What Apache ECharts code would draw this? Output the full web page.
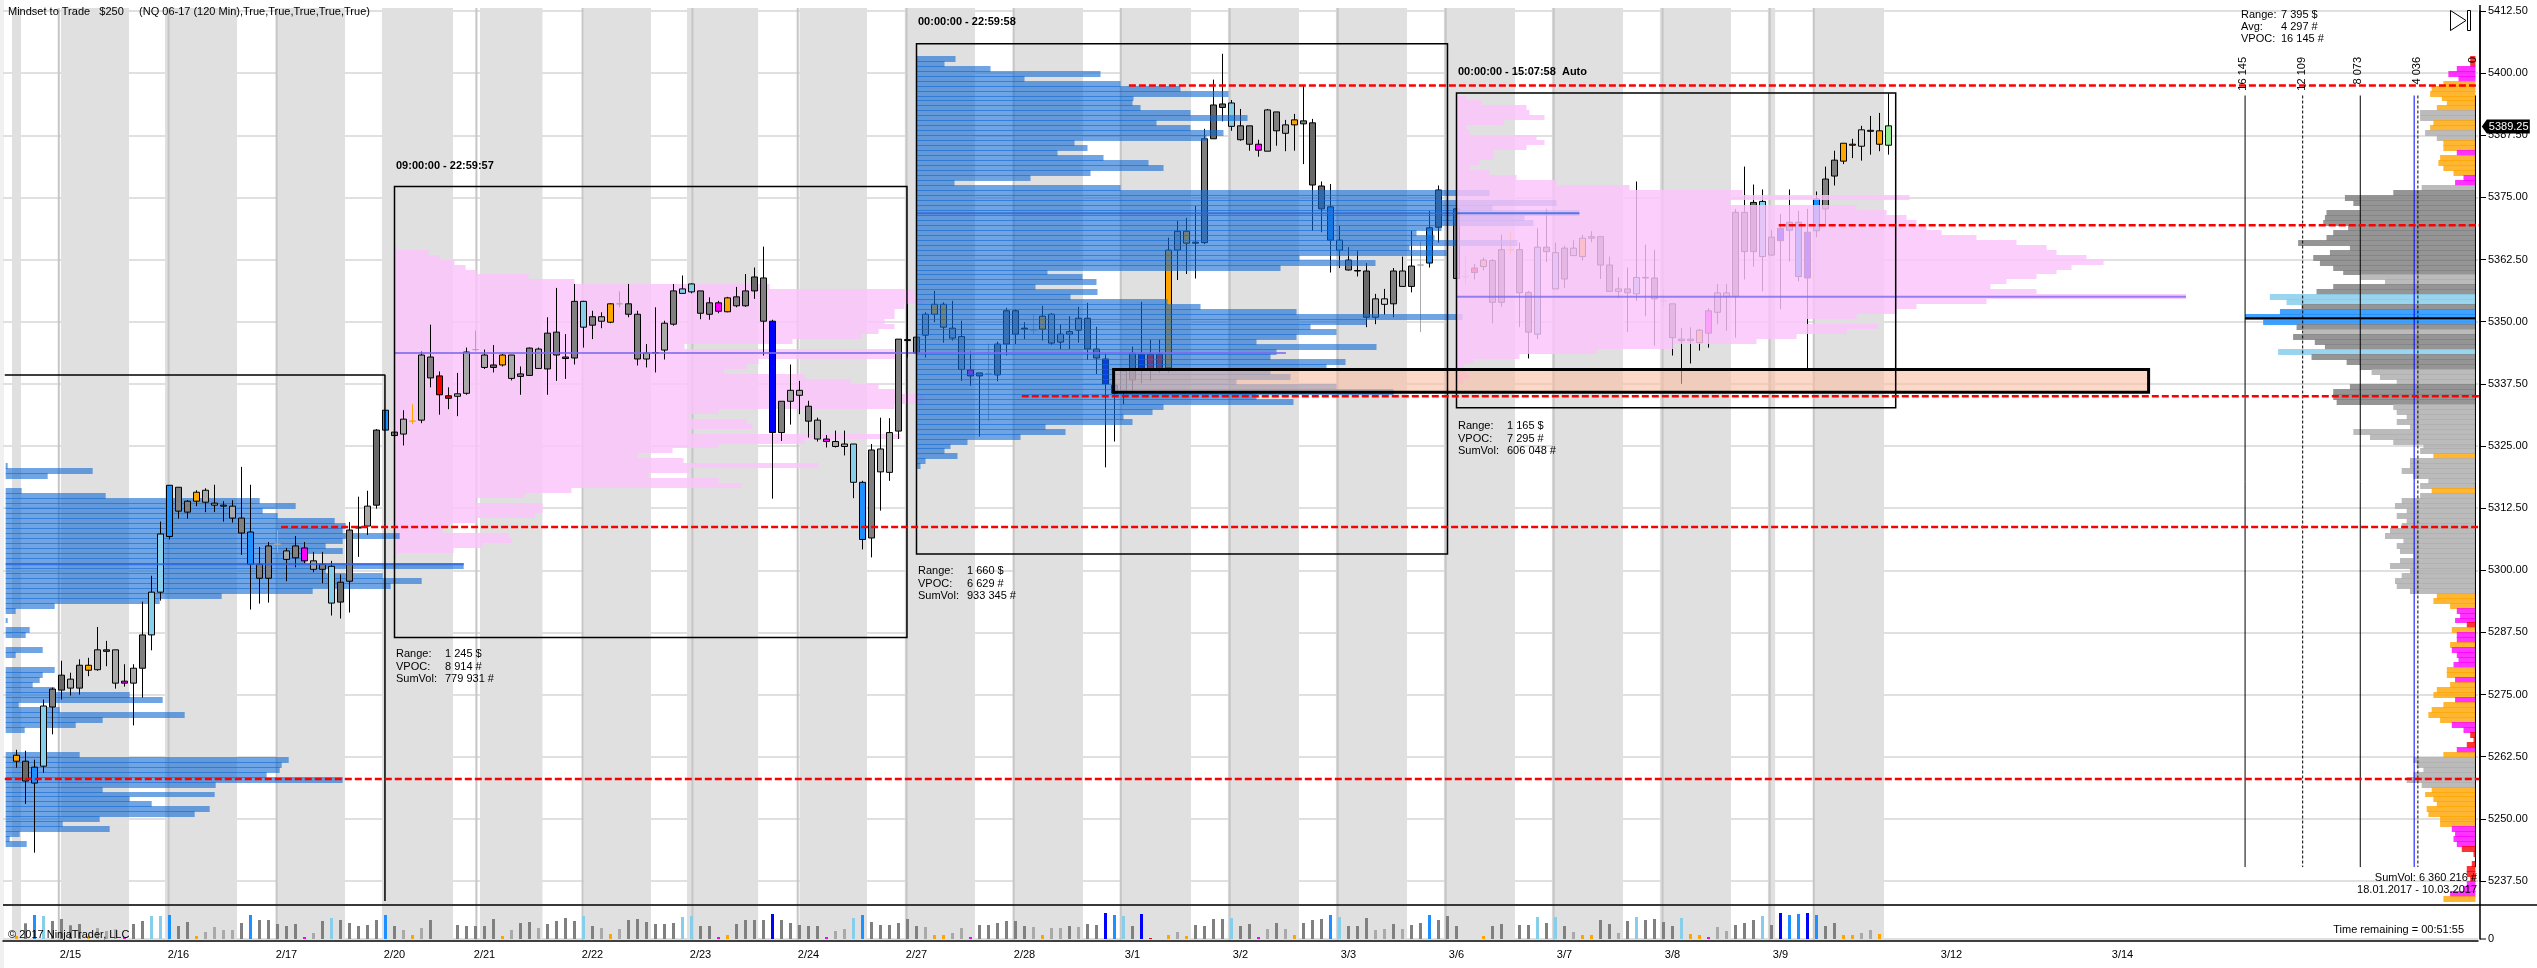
<!DOCTYPE html>
<html><head><meta charset="utf-8"><style>html,body{margin:0;padding:0;background:#fff}#c{width:2537px;height:968px}</style>
<script src="https://cdn.jsdelivr.net/npm/echarts@6/dist/echarts.min.js"></script></head><body><div id="c"></div>
<script>
// ---- time slots ----
const slotCount = 275;
const tickSlots = [7,19,31,43,53,65,77,89,101,113,125,137,149,161,173,185,197,202,216,235];
const tickDates = ['2/15','2/16','2/17','2/20','2/21','2/22','2/23','2/24','2/27','2/28','3/1','3/2','3/3','3/6','3/7','3/8','3/9',' ','3/12','3/14'];
// ---- candles (index = slot) ----
const highs = [null,
5263.9,5263.7,5261.9,5274,5276.4,5281.8,5279.4,5282.1,5282.4,
5288.6,5285.8,5284,5281.1,5281.1,5293.7,5298.9,5309.8,5317.1,5316.7,
5314.1,5316.1,5316.5,5317.2,5313.9,5314.1,5320.8,5317.2,5304.7,5305.7,
5308.1,5304.5,5306.9,5305.7,5303.7,5303.7,5301.9,5299.2,5309.7,5314.8,
5316,5328.4,5332.2,5328.4,5332.2,5333.4,5344,5349.4,5340,5336.8,
5339.7,5344.8,5348.2,5344.4,5345.3,5343.5,5343.3,5341,5344.8,5344.8,
5350.9,5356.8,5347.5,5357.6,5354.2,5352.2,5351.9,5353.7,5356.1,5357.6,
5352.2,5345.5,5352.9,5350.2,5357.6,5359.3,5357.7,5356.2,5354.9,5354.2,
5355,5357,5359.6,5360.9,5365.1,5350.4,5334,5341.4,5338.1,5334.1,
5330.7,5327.2,5328.1,5328.1,5325.4,5318,5325.4,5330.7,5330.6,5346.5,
5353.6,5347.2,5351.9,5356.2,5353.9,5354.2,5350.2,5344,5339.7,5345.6,
5346,5352.8,5352.5,5349.9,5351.5,5353.2,5351.7,5349.5,5351.1,5353,
5353.8,5349,5343.5,5337.5,5340.1,5345,5354,5346.4,5346.4,5366.9,
5370.3,5370.9,5373.3,5388.8,5398.7,5403.9,5394.6,5392.8,5389.4,5386.6,
5392.8,5392.2,5390.6,5391.8,5397.6,5390.8,5378.2,5377.7,5369.3,5365,
5364.3,5361.8,5355.6,5356.6,5360.8,5363.1,5368.3,5366.2,5372.3,5377.4,
null,5373,5363.3,5361.6,5362.9,5362.6,5367.5,5368.1,5365.9,5356.2,
5368.8,5372.7,5365.9,5365.3,5366.4,5367.5,5368.2,5367.1,5363.1,5358.9,
5360.9,5378.2,5365.5,5364.5,5356.6,5353.6,5348.7,5348.9,5348.5,5352.7,
5357.6,5357.6,5372.7,5381.2,5377.6,5376.6,5368.4,5371.7,5376.6,5372.3,
5372.7,5376.2,5381.2,5384.4,5385.9,5386.8,5389.4,5391.4,5392,5395.9];
const bodyTops = [null,
5262.8,5261.6,5260.4,5272.7,5276.1,5278.9,5278.1,5280.9,5280.9,
5284,5284,5284,5277.7,5280.3,5287,5295.6,5307.3,5317.1,5316.7,
5313.9,5315.7,5316.1,5313.5,5313.1,5312.9,5310.5,5307.7,5301.2,5304.9,
5305.3,5303.9,5304.9,5304.5,5301.9,5301.2,5300.8,5297.6,5308.1,5308.7,
5312.9,5328.2,5332.2,5327.8,5330.4,5330,5343.3,5342.9,5339.1,5335.1,
5335.5,5343.9,5344.4,5343.3,5341.3,5343.3,5343.3,5339.5,5344.7,5344.5,
5347.7,5347.9,5342.9,5354.1,5354.1,5351,5351,5353.6,5353.6,5353.6,
5351.5,5343.7,5343.8,5349.7,5356.2,5356.6,5357.6,5356.2,5353.8,5353.8,
5354.8,5355,5356.2,5359,5358.8,5350.1,5334,5336.2,5336.2,5333,
5330.2,5326.4,5325.9,5325.4,5325.4,5317.7,5324.2,5324.4,5327.7,5346.5,
5346.4,5346.9,5351.5,5353.5,5353.5,5348.7,5347,5340.3,5339.7,5339.5,
5345.5,5352.2,5352.2,5348.7,5348.3,5351.1,5351.5,5347.5,5348,5350.7,
5350.7,5344.5,5342.5,5337.2,5340.1,5343.7,5343.5,5343.5,5343.5,5364.4,
5368.2,5368.2,5366,5386.8,5393.6,5393.8,5394,5389.4,5389.4,5385.7,
5392.6,5392.2,5389.6,5390.6,5390.4,5390,5377.3,5373.1,5366.4,5362.4,
5360.3,5360.2,5354.6,5354.6,5360.2,5360.2,5361.2,5361.4,5368.9,5376.5,
null,5372.7,5359.1,5360.8,5362.4,5362.3,5364.5,5364.5,5364.5,5355.9,
5365,5365,5363.9,5364.8,5364.8,5366.8,5367.1,5367.1,5361.4,5356.6,
5356.6,5358.9,5358.9,5358.8,5354.2,5353.6,5346.5,5346.5,5348.3,5352.2,
5355.8,5355.8,5372,5372,5374,5374.2,5367,5368.8,5370,5370,
5368,5374.7,5378.7,5382.5,5385.9,5385.7,5388.6,5388.5,5388.4,5389.4];
const bodyBottoms = [null,
5261.6,5257.6,5257.2,5260.6,5272.5,5275.9,5276.3,5276.3,5279.9,
5280,5283.7,5277.3,5277.3,5277.3,5280.3,5287,5295.6,5306.8,5311.9,
5311.7,5313.9,5313.7,5313.1,5312.9,5310.5,5307.5,5301.2,5298.4,5298.4,
5305.2,5302.2,5302.5,5301.9,5300.2,5300.2,5293.4,5293.6,5297.8,5308.5,
5308.9,5313.1,5328.2,5327.1,5327.4,5330,5330.2,5338.7,5335.3,5334.6,
5335,5335.6,5344.4,5340.8,5340.8,5341.3,5338.6,5339,5339.2,5340.6,
5340.5,5343.3,5342.6,5342.7,5348.9,5349.3,5350.1,5349.9,5353.6,5351.5,
5342.5,5342.5,5343.7,5344.3,5349.5,5355.7,5356,5351.7,5351.5,5352.1,
5352,5353.2,5353.2,5356.2,5350.1,5327.7,5327.7,5334,5335.2,5330,
5326.4,5325.9,5324.9,5324.9,5317.7,5306.2,5306.5,5319.8,5319.7,5328,
5346.2,5343.7,5347.3,5351.5,5348.9,5346.7,5340.4,5339.1,5339.1,5339.5,
5339.3,5345.5,5347.5,5348.5,5348.3,5348.5,5345.7,5345.9,5347.5,5348.3,
5344.5,5342.7,5337.5,5335.6,5336,5338.3,5340.3,5340.5,5340.5,5340.7,
5364.4,5365.8,5365.8,5365.9,5386.8,5393.1,5389.3,5386.6,5385.7,5384.5,
5384.3,5388.4,5387.9,5389.6,5389.8,5377.5,5372.7,5366.4,5364.4,5360.4,
5360.2,5350.9,5350.9,5353.5,5353.6,5357.1,5357.1,5361.4,5361.8,5369,
null,5358.7,5359,5359.9,5361.1,5353.9,5353.9,5364.5,5355.8,5347.9,
5347.5,5364.1,5356.6,5358.6,5363.3,5363.1,5366.8,5361.4,5356.1,5356.1,
5355.8,5355.6,5358.8,5354.6,5354.2,5346.8,5346.2,5346.2,5345.8,5347.7,
5351.9,5355.1,5355.1,5364.1,5364.1,5363.1,5363.4,5366.3,5368.4,5359.1,
5358.8,5368.3,5372.7,5379.3,5382.3,5385.5,5385.3,5388.3,5385.7,5385.5];
const lows = [null,
5260.3,5253,5243.2,5259.3,5267,5274,5274.8,5275,5278.7,
5279.8,5280.7,5276.2,5276.6,5268.8,5274.4,5283.9,5293.9,5306.2,5310.4,
5310.4,5312.9,5311.7,5311.7,5309.8,5309.6,5303.1,5292.1,5293.3,5293.5,
5303.5,5297.8,5300.6,5301.4,5299.6,5297.4,5290.9,5290.3,5291.5,5302.7,
5307.1,5312.4,5328.2,5324.1,5325.1,5329.4,5329.6,5336.8,5331.3,5332.4,
5331,5335.3,5344,5340.5,5339.8,5341,5338.2,5335.3,5339.1,5340.5,
5335.3,5338.1,5338.5,5341.4,5344.8,5346.5,5348.7,5349.7,5352.9,5350.9,
5341.2,5340.8,5339.8,5342.4,5349.2,5355.6,5355.7,5350.5,5350.4,5351.7,
5351.9,5352.9,5353,5354.6,5343.2,5314.4,5326,5329.3,5331.4,5326.7,
5325.9,5324.7,5324.7,5323.1,5314.5,5304.2,5302.6,5312,5318,5326.4,
5342.8,5343.5,5342.8,5349.9,5345.8,5346.2,5338.1,5337.1,5326.9,5330.1,
5338,5343.2,5345.5,5346.5,5347.5,5346.2,5345.3,5344.5,5344.5,5345.8,
5342.3,5339.5,5320.7,5325.9,5333.4,5336,5337.6,5338.1,5339.8,5339.8,
5358.4,5359.6,5358.7,5365.6,5386.8,5390.3,5388.4,5386.4,5384.4,5383.2,
5384.3,5385.4,5384.3,5384.4,5381.7,5368.3,5368,5359.9,5360.8,5360.3,
5359.1,5348.9,5349.5,5351.4,5350.9,5357.1,5355.9,5347.9,5360.9,5365.9,
null,5358.5,5357.4,5358.5,5360.3,5349.7,5353,5363.6,5348.9,5342.6,
5346.5,5362,5356.6,5356.8,5363.3,5362.3,5366,5358.6,5356.1,5354.7,
5347.9,5354.2,5351.1,5345.2,5353.2,5343.2,5337.5,5341.6,5344.2,5344.8,
5349.5,5348.2,5346.8,5358.5,5361.1,5356.1,5363.3,5352.5,5362.1,5358.1,
5340.1,5367,5369.5,5377.4,5381.7,5382.9,5382.4,5383.6,5384.3,5383.6];
const barClasses = ('-ODBSGDLGO'+'LDLMLGSSBG'+'GOLLLLGBGG'+'XLGMLGSDGD'+'LDBGLTLGRR'+'LLXLDOLGGL'+'GGDGSGLOXG'+'GLDLGSSGGM'+'OGGDGKGLLG'+'LMLLSBGLLG'+
 'DGLOOLLMGX'+'GGGDXOLLLL'+'GGKBSGKRRO'+'LODGDDSGGM'+'LGLOGDDBSG'+'DDLWGLGXBD'+'-GXROGGTGG'+'SGSGLOOGGL'+'GSGGXGSOOM'+'LLGGDSGKBB'+'KBGGOOWLON').split('');
const volumes = [0,3000,15700,24000,23000,18000,20000,13700,15000,3000,
11000,8000,9700,2000,15000,18000,23000,23000,24000,13000,
17000,3000,7000,12000,9000,9000,16000,24000,19000,19000,
15000,13000,15000,2000,6000,18000,21000,19000,16000,13000,
14000,19000,24000,13000,9000,4000,11000,19000,0,0,
14000,13000,13000,13000,20000,3000,9000,16000,17000,11000,
15000,18000,21000,18000,23000,13000,11000,5000,10000,19000,
20000,17000,15000,15000,16000,22000,23000,13000,13000,2000,
4000,15000,19000,19000,19000,25000,19000,16000,14000,13000,
13000,2000,8000,10000,21000,24000,17000,14000,14000,16000,
20000,13000,12000,4000,4000,6000,11000,2000,14000,14000,
16000,18000,18000,13000,12000,4000,11000,11000,13000,12000,
15000,14000,26000,24000,23000,13000,25000,1000,0,4000,
7000,3000,14000,13000,20000,20000,21000,13000,15000,2000,
10000,16000,10000,4000,16000,19000,20000,24000,22000,13000,
13000,21000,9000,10000,15000,10000,14000,16000,24000,19000,
23000,13000,0,0,3000,13000,15000,0,14000,14000,
22000,16000,22000,13000,7000,4000,4000,19000,15000,6000,
18000,22000,19000,20000,17000,13000,21000,5000,4000,2000,
12000,8000,14000,16000,19000,23000,14000,26000,24000,25000,
26000,24000,13000,16000,4000,4000,6000,9000,5000,0];
// ---- session volume profiles: contracts per 1-point price row, first value at the top price ----
const blue1Top = 5321;
const blue1Volumes = [20,870,420,0,0,160,1000,2540,2900,2570,2720,3290,3400,3370,3940,3370,3200,3370,3000,3000,4580,3200,3770,4160,3850,3070,2160,1540,490,100,0,20,0,240,200,0,0,370,100,0,0,490,370,340,270,490,1240,1570,130,540,1790,970,700,190,0,0,0,0,740,2830,2760,2740,2610,3370,2100,970,2090,1240,1460,2040,1890,940,570,1040,140,40,210];
const pink1Top = 5365;
const pink1Volumes = [20,340,450,600,710,820,1340,1800,3750,5200,5200,5300,5100,5000,5000,4900,5000,4840,4670,3980,2900,5000,5060,3640,3520,3290,4100,4560,4840,5060,5300,5300,5000,3240,2950,3520,3580,2950,5060,4100,3240,2780,2430,2890,4240,2950,2540,3240,3470,1770,1300,820,1480,1480,1400,820,540,480,1140,1170,880,590,20];
const blue2Top = 5403;
const blue2Volumes = [390,280,740,1840,1080,2040,2640,3120,2170,2160,2240,2740,3310,2400,2740,3070,2900,1580,1710,1410,1870,2320,2470,1740,1140,380,2040,5730,5250,6400,5760,6629,6080,6170,5250,5000,5180,6010,4930,5300,3830,4590,3640,1310,1660,1800,1190,1810,1540,2510,2840,3800,5460,4500,3940,4200,3800,3400,4600,3600,3540,4290,4100,3540,3740,3200,4200,4770,3400,3770,2470,2360,2070,2160,1290,1490,1040,510,340,280,410,90,40];
const pink2Top = 5396;
const pink2Volumes = [10,100,250,700,730,880,470,100,130,800,880,700,370,370,230,130,330,600,1000,1730,2860,4530,2730,4000,4300,4500,4600,4700,4850,5200,5600,5900,6000,6300,6470,6150,6000,5800,5500,5340,5800,7295,5300,4600,4400,4000,3500,4210,3900,3400,3000,2170,1400,630,170,70,100,130,70,10];
// ---- whole-period profile on the right ----
const rightTop = 5403;
const rightVolumes = [370,370,1310,1900,1190,2250,3070,3180,2360,2010,
2710,3880,3880,2950,3180,3530,2710,2250,2250,1310,
2480,2600,2250,1540,840,1430,3770,5760,9150,8560,
8100,10440,10550,10670,8920,9970,10440,12430,8800,10200,
11370,10900,9970,9270,8100,6340,9970,11140,14410,13240,
12190,13700,16145,14880,12540,12070,12780,11260,10550,13830,
11490,9030,8100,7280,6690,5520,8800,9970,9970,9730,
5760,5520,4820,5520,4590,8560,7390,5760,3650,3880,
2950,4590,4590,5170,4350,3300,3880,3070,3880,5170,
5640,4820,5520,4820,5170,5990,6340,5050,5520,5290,
4350,5290,5990,4590,5170,5640,5520,4590,2710,2950,
1780,1310,1080,1430,610,1660,1310,1310,1780,1660,
1310,1190,1540,2010,2010,1430,1780,2710,2950,1430,
2250,3070,3300,2480,1660,840,370,140,610,1310,
2250,4350,4120,3650,4350,4820,3770,3070,3530,2950,
2710,3420,3300,2480,2480,1660,1430,1540,1310,960,
140,20,260,610,610,370,610,840,1780,2250];
const rightClasses = ('RRMMMOOOOO'+'OLLOOLLOOM'+'OOOOMMLGGG'+'GGGGGGGGGG'+'GGGGLLGGSS'+'GBBBGLGGGS'+'GGGLLLGGGG'+'LLLLLLLLLL'+'OLLLLLLOLL'+'LLLLLLLLLL'+'LLLLLLLLOO'+'OMMMROMMOM'+'MMMOOMOOOM'+'OOOOMMRRRM'+'OLLLLLLOOO'+'OOOOOMMMMR'+'RRRRRRMMMO').split('');
const rightReferenceVolumes = [16145,12109,8073,4297,4036,0];
const rightReferenceDashed = [false,true,false,false,true,false];
const rightReferenceBlue = [false,false,false,true,false,false];
// ---- anchors (slot) for each profile ----
const blue1Anchor = -0.2, pink1Anchor = 43, blue2Anchor = 101, pink2Anchor = 161, rightAnchor = 274.22;
const contractsPerSlot = 90, rightContractsPerSlot = 630.7;
// ---- VPOC rows ----
const vpocPrices = [5301.2,5343.7,5371.8,5355];
const vpocVolumes = [4580,8914,6629,7295];
const vpocAnchors = [blue1Anchor,pink1Anchor,blue2Anchor,pink2Anchor];
// ---- background sessions ----
const bandStarts = [0.5,5.94,17.5,29.94,41.6,52.5,64,75.5,88,99.7,111.7,123.6,135.6,147.6,159.6,171.6,183.6,195.6,200.6];
const bandEnds = [1.5,13.5,25.5,37.5,49.5,59.44,71.5,83.4,95.5,107.5,119.5,131.5,143.5,155.5,167.5,179.5,191.5,196.4,208.5];
const dayBreaks = [5.7,17.9,29.9,52.1,63.9,76.1,87.8,99.9,111.8,123.7,135.8,147.8,159.8,171.8,183.9,195.8,200.7];
// ---- annotations in data coordinates ----
const boxLeft = [43,101,161], boxRight = [99.94,160,209.8], boxTop = [5377.2,5405.9,5396], boxBottom = [5286.5,5303.3,5332.7];
const openBoxSlots = [-0.3,41.94,41.94], openBoxPrices = [5339.3,5339.3,5233.5];
const zoneSlots = [122.9,237.9], zonePrices = [5340.4,5335.8];
const redPrices = [5397.5,5369.4,5335,5308.7,5258];
const redStarts = [124.6,196.8,112.7,30.4,-0.3];
const redEnd = 274.7;
const lastPrice = 5389.25;
const vpocRight = 5350.7;

const priceMin = 5237.5, priceMax = 5412.5, priceStep = 12.5, volumeMax = 34000;
const FONT = '11px "Liberation Sans", Arial, sans-serif', BOLD = 'bold 11px "Liberation Sans", Arial, sans-serif';

const candleFill = {D:'#696969',G:'#808080',L:'#a9a9a9',W:'#d3d3d3',S:'#87ceeb',B:'#1e90ff',K:'#0000ff',O:'#ffa500',M:'#ff00ff',R:'#ff0000',N:'#90ee90',X:'#a9a9a9',T:'#ffa500'};
const rightFill = {G:'rgba(130,130,130,.85)',L:'rgba(175,175,175,.85)',O:'rgba(255,165,0,.8)',M:'rgba(255,0,255,.8)',R:'rgba(255,0,0,.8)',S:'rgba(135,206,235,.85)',B:'rgba(30,144,255,.85)'};
const BLUE = 'rgba(15,105,210,.6)', PINK = 'rgba(250,195,250,.82)';

const slotLabels = Array.from({length:slotCount},()=> '');
tickSlots.forEach((s,i)=>{slotLabels[s]=tickDates[i];});
const isTick = i => tickSlots.indexOf(i) >= 0;

const candleData = highs.map((h,i)=>{
  const c = barClasses[i];
  if (h == null) return {value:['-','-','-','-']};
  const thin = c==='X'||c==='T';
  const fill = candleFill[c];
  const border = thin ? fill : '#000';
  return {value:[bodyTops[i],bodyBottoms[i],lows[i],h],itemStyle:{color:fill,color0:fill,borderColor:border,borderColor0:border,borderWidth:1}};
});
const volumeData = volumes.map((v,i)=>{
  const c = barClasses[i];
  const gray = 'DGLWX'.indexOf(c)>=0;
  const col = gray ? (v<=12500?'#a9a9a9':'#808080') : (c==='T'?'#ffa500':candleFill[c]||'#808080');
  return {value:v,itemStyle:{color:col}};
});

function rows(top,vols){return vols.map((v,i)=>[top-i,v]);}
function profileSeries(name,top,vols,anchor,perSlot,dir,fillFn,z,overlap){
  return {name,type:'custom',xAxisIndex:1,yAxisIndex:0,z,clip:false,silent:true,
    data:rows(top,vols),encode:{x:1,y:0},
    renderItem(p,api){
      const price=api.value(0),vol=api.value(1);
      if(!vol) return null;
      const a=api.coord([anchor,price+0.5]),b=api.coord([anchor+dir*vol/perSlot,price-0.5]);
      const y0=Math.round(a[1]),y1=Math.round(b[1]);
      return {type:'rect',shape:{x:Math.min(a[0],b[0]),y:y0,width:Math.abs(b[0]-a[0]),height:y1-y0+overlap},style:{fill:fillFn(p.dataIndex)}};
    }};
}
function lineShape(p1,p2,style){return {type:'line',shape:{x1:p1[0],y1:p1[1],x2:p2[0],y2:p2[1]},style:Object.assign({fill:null},style)};}
const panelTopPad = 3, panelBottomPad = 59;

const series = [
  {name:'bands',type:'custom',xAxisIndex:1,yAxisIndex:0,z:1,clip:false,silent:true,
   data:bandStarts.map((s,i)=>[s,bandEnds[i]]),encode:{x:0},
   renderItem(p,api){const a=api.coord([api.value(0),priceMax]),b=api.coord([api.value(1),priceMin]);
     return {type:'rect',shape:{x:a[0],y:a[1]-panelTopPad,width:b[0]-a[0],height:b[1]-a[1]+panelTopPad+panelBottomPad},style:{fill:'#e0e0e0'}};}},
  {name:'dayBreaks',type:'custom',xAxisIndex:1,yAxisIndex:0,z:1.5,clip:false,silent:true,
   data:dayBreaks.map(s=>[s]),encode:{x:0},
   renderItem(p,api){const a=api.coord([api.value(0),priceMax]),b=api.coord([api.value(0),priceMin]);
     return lineShape([a[0],a[1]-panelTopPad],[b[0],b[1]+panelBottomPad],{stroke:'#c6c6c6',lineWidth:2});}},
  profileSeries('pink1',pink1Top,pink1Volumes,pink1Anchor,contractsPerSlot,1,()=>PINK,3,0),
  profileSeries('blue1',blue1Top,blue1Volumes,blue1Anchor,contractsPerSlot,1,()=>BLUE,3.1,1),
  {name:'candles',type:'candlestick',xAxisIndex:0,yAxisIndex:0,z:4,barWidth:6,data:candleData,silent:true},
  profileSeries('blue2',blue2Top,blue2Volumes,blue2Anchor,contractsPerSlot,1,()=>BLUE,5,1),
  profileSeries('pink2',pink2Top,pink2Volumes,pink2Anchor,contractsPerSlot,1,()=>PINK,5.1,0),
  profileSeries('right',rightTop,rightVolumes,rightAnchor,rightContractsPerSlot,-1,i=>rightFill[rightClasses[i]],5.2,1),
  {name:'vpoc',type:'custom',xAxisIndex:1,yAxisIndex:0,z:5.5,clip:false,silent:true,
   data:vpocPrices.map((p,i)=>[vpocAnchors[i],p,vpocVolumes[i]]),encode:{x:0,y:1},
   renderItem(p,api){const a=api.coord([api.value(0),api.value(1)]),b=api.coord([api.value(0)+api.value(2)/contractsPerSlot,api.value(1)]);
     return lineShape(a,b,{stroke:p.dataIndex%2?'rgba(125,105,240,.8)':'rgba(45,100,225,.8)',lineWidth:2});}},
  {name:'rightRefs',type:'custom',xAxisIndex:1,yAxisIndex:0,z:5.6,clip:false,silent:true,
   data:rightReferenceVolumes.map(v=>[v]),encode:{x:0},
   renderItem(p,api){const x=rightAnchor-api.value(0)/rightContractsPerSlot;
     const blue=rightReferenceBlue[p.dataIndex],dash=rightReferenceDashed[p.dataIndex];
     return lineShape(api.coord([x,5395.5]),api.coord([x,5240.3]),{stroke:blue?'#0000ff':'#000',lineWidth:1,lineDash:dash?[3,2]:null});}},
  {name:'rightVpoc',type:'custom',xAxisIndex:1,yAxisIndex:0,z:5.7,clip:false,silent:true,data:[[vpocRight]],encode:{y:0},
   renderItem(p,api){return lineShape(api.coord([rightAnchor-16145/rightContractsPerSlot,api.value(0)]),api.coord([rightAnchor,api.value(0)]),{stroke:'#000',lineWidth:2});}},
  {name:'zone',type:'custom',xAxisIndex:1,yAxisIndex:0,z:6,clip:false,silent:true,data:[[zoneSlots[0],zonePrices[0],zoneSlots[1],zonePrices[1]]],encode:{x:0,y:1},
   renderItem(p,api){const a=api.coord([api.value(0),api.value(1)]),b=api.coord([api.value(2),api.value(3)]);
     return {type:'rect',shape:{x:a[0],y:a[1],width:b[0]-a[0],height:b[1]-a[1]},style:{fill:'rgba(250,190,165,.6)',stroke:'#000',lineWidth:3}};}},
  {name:'boxes',type:'custom',xAxisIndex:1,yAxisIndex:0,z:6.5,clip:false,silent:true,
   data:boxLeft.map((l,i)=>[l,boxTop[i],boxRight[i],boxBottom[i]]),encode:{x:0,y:1},
   renderItem(p,api){const a=api.coord([api.value(0),api.value(1)]),b=api.coord([api.value(2),api.value(3)]);
     return {type:'rect',shape:{x:a[0],y:a[1],width:b[0]-a[0],height:b[1]-a[1]},style:{fill:null,stroke:'#000',lineWidth:1.5}};}},
  {name:'openBox',type:'line',xAxisIndex:1,yAxisIndex:0,z:6.5,silent:true,symbol:'none',clip:false,animation:false,
   data:openBoxSlots.map((s,i)=>[s,openBoxPrices[i]]),lineStyle:{color:'#000',width:1.5}},
  {name:'redLevels',type:'custom',xAxisIndex:1,yAxisIndex:0,z:7,clip:false,silent:true,
   data:redPrices.map((p,i)=>[redStarts[i],p]),encode:{x:0,y:1},
   renderItem(p,api){return lineShape(api.coord([api.value(0),api.value(1)]),api.coord([redEnd,api.value(1)]),{stroke:'#ff0000',lineWidth:2.5,lineDash:[7,3]});}},
  {name:'lastTag',type:'custom',xAxisIndex:1,yAxisIndex:0,z:9,clip:false,silent:true,data:[[lastPrice]],encode:{y:0},
   renderItem(p,api){const y=api.coord([0,api.value(0)])[1],x=api.coord([redEnd,priceMin])[0]+1;
     return {type:'group',children:[
       {type:'polygon',shape:{points:[[x+1,y],[x+6,y-7],[x+49,y-7],[x+49,y+7],[x+6,y+7]]},style:{fill:'#000'}},
       {type:'text',x:x+8,y:y,style:{text:lastPrice.toFixed(2),fill:'#fff',font:FONT,align:'left',verticalAlign:'middle',textAlign:'left',textVerticalAlign:'middle'}}]};}},
  {name:'volume',type:'bar',xAxisIndex:2,yAxisIndex:1,z:4,barWidth:3,silent:true,data:volumeData}
];

function T(x,y,text,o){o=o||{};return {type:'text',x,y,z:100,rotation:o.rot||0,silent:true,style:{text,fill:'#000',font:o.font||FONT,
  align:o.align||'left',verticalAlign:'middle',textAlign:o.align||'left',textVerticalAlign:'middle'}};}
const headerText = 'Mindset to Trade   $250     (NQ 06-17 (120 Min),True,True,True,True,True)';
const sessionLabels = [[396,166,'09:00:00 - 22:59:57'],[918,22,'00:00:00 - 22:59:58'],[1458,72,'00:00:00 - 15:07:58  Auto']];
const statNames = ['Range:','VPOC:','SumVol:'];
const statBlocks = [[396,654,['1 245 $','8 914 #','779 931 #']],[918,571,['1 660 $','6 629 #','933 345 #']],[1458,426,['1 165 $','7 295 #','606 048 #']]];
const refLabels = [[2243,'16 145'],[2302,'12 109'],[2358,'8 073'],[2417,'4 036'],[2473,'0']];
const g = [
  {type:'rect',shape:{x:0,y:0,width:4,height:968},style:{fill:'#f0f0f0'},z:-1,silent:true},
  T(8,12,headerText)
];
sessionLabels.forEach(s=>g.push(T(s[0],s[1],s[2],{font:BOLD})));
statBlocks.forEach(b=>{statNames.forEach((n,i)=>{const y=b[1]+[0,13,25][i];g.push(T(b[0],y,n));g.push(T(b[0]+49,y,b[2][i]));});});
[['Range:','7 395 $'],['Avg:','4 297 #'],['VPOC:','16 145 #']].forEach((r,i)=>{g.push(T(2241,15+12*i,r[0]));g.push(T(2281,15+12*i,r[1]));});
refLabels.forEach(r=>g.push(T(r[0],57,r[1],{rot:Math.PI/2,align:'right'})));
g.push(T(2477,878,'SumVol: 6 360 216 #',{align:'right'}),T(2477,890,'18.01.2017 - 10.03.2017',{align:'right'}),
  T(2464,930,'Time remaining = 00:51:55',{align:'right'}),T(8,935,'© 2017 NinjaTrader, LLC'),T(2488,939,'0'));
g.push({type:'polygon',z:100,silent:true,shape:{points:[[2450.5,10.5],[2466,20.5],[2450.5,30.5]]},style:{fill:'#fff',stroke:'#000',lineWidth:1}},
  {type:'rect',z:100,silent:true,shape:{x:2467.5,y:10.5,width:3,height:20},style:{fill:'#fff',stroke:'#000',lineWidth:1}},
  {type:'line',z:100,silent:true,shape:{x1:3,y1:905,x2:2537,y2:905},style:{stroke:'#000',lineWidth:1.5}},
  {type:'line',z:100,silent:true,shape:{x1:2480,y1:5,x2:2480,y2:905},style:{stroke:'#000',lineWidth:1.5}},
  {type:'line',z:100,silent:true,shape:{x1:2480,y1:939,x2:2486,y2:939},style:{stroke:'#000',lineWidth:1}});

const chart = echarts.init(document.getElementById('c'),null,{renderer:'canvas'});
chart.setOption({
  animation:false,backgroundColor:'#fff',tooltip:{show:false},legend:{show:false},
  textStyle:{fontFamily:'"Liberation Sans", Arial, sans-serif'},
  grid:[{left:3,top:11,width:2475,height:870},{left:3,top:905,width:2475,height:34}],
  xAxis:[
    {type:'category',gridIndex:0,data:slotLabels,boundaryGap:true,axisLine:{show:false},axisTick:{show:false},axisLabel:{show:false},splitLine:{show:false}},
    {type:'value',gridIndex:0,min:-0.5,max:slotCount-0.5,show:false,splitLine:{show:false}},
    {type:'category',gridIndex:1,data:slotLabels,boundaryGap:true,z:10,offset:2,axisLine:{lineStyle:{color:'#000',width:1.5},onZero:false},
     axisTick:{alignWithLabel:true,length:6,interval:(i)=>isTick(i),lineStyle:{color:'#000'}},
     axisLabel:{interval:(i)=>isTick(i),color:'#000',fontSize:11,margin:8,hideOverlap:false},splitLine:{show:false}}
  ],
  yAxis:[
    {type:'value',gridIndex:0,position:'right',offset:2,min:priceMin,max:priceMax,interval:priceStep,
     axisLine:{show:true,onZero:false,lineStyle:{color:'#000',width:1.5}},axisTick:{show:true,length:6,lineStyle:{color:'#000'}},
     axisLabel:{color:'#000',fontSize:11,margin:8,formatter:v=>v.toFixed(2)},
     splitLine:{show:true,lineStyle:{color:'#e0e0e0',width:2}}},
    {type:'value',gridIndex:1,position:'right',offset:2,min:0,max:volumeMax,interval:volumeMax,
     axisLine:{show:true,onZero:false,lineStyle:{color:'#000',width:1.5}},axisTick:{show:false},
     axisLabel:{show:false},
     splitLine:{show:true,lineStyle:{color:'#e0e0e0',width:2}}}
  ],
  series,graphic:{elements:g}
});
</script></body></html>
